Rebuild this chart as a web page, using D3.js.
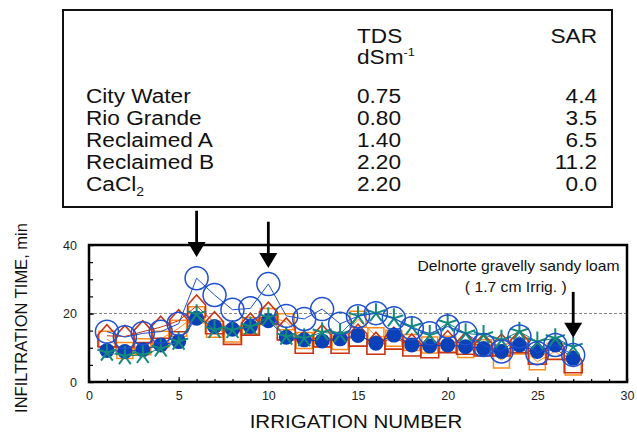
<!DOCTYPE html>
<html>
<head>
<meta charset="utf-8">
<script src="https://cdn.jsdelivr.net/npm/d3@7"></script>
<style>
  body { margin: 0; background: #fff; }
  text { font-family: "Liberation Sans", Arial, sans-serif; }
</style>
</head>
<body>
<div class="chart"></div>
<script>
// irrigation numbers (x)
var irrigation = [1,2,3,4,5,6,7,8,9,10,11,12,13,14,15,16,17,18,19,20,21,22,23,24,25,26,27];

// infiltration time, min - one array per marker series
var openCircle   = [14.7,13.1,14.2,14.7,17.0,30.3,25.4,21.1,21.5,28.6,19.3,18.4,21.3,17.0,19.2,20.1,18.6,15.7,14.2,16.2,14.2,10.8,8.9,13.3,8.4,10.8,7.9];
var houseSeries  = [13.5,13.3,14.7,16.0,17.9,22.2,17.3,14.2,16.9,20.1,15.5,11.6,13.5,11.6,13.7,11.3,12.8,10.8,10.3,11.8,11.3,10.8,10.8,11.8,8.4,9.8,5.9];
var squareSeries = [12.5,9.2,10.3,12.5,15.7,19.6,15.4,14.0,16.4,19.1,17.6,12.1,12.5,11.8,18.3,13.5,12.8,11.5,10.8,11.0,9.5,10.0,6.4,10.5,5.9,9.0,4.4];
var filledCircle = [9.2,8.9,9.4,10.8,11.8,18.6,16.2,15.4,16.2,17.9,13.1,12.3,12.0,12.6,13.6,11.3,13.7,10.8,10.5,10.8,10.3,9.8,8.9,10.8,8.9,10.8,6.9];
var asteriskSeries = [8.6,7.6,7.9,9.8,11.8,19.8,15.2,15.2,16.2,18.9,13.3,12.8,14.5,14.0,19.3,20.1,18.6,16.2,13.7,17.2,14.2,13.7,12.3,14.7,11.8,12.8,10.3];

// water table
var waters = ["City Water", "Rio Grande", "Reclaimed A", "Reclaimed B", "CaCl"];
var tds = ["0.75", "0.80", "1.40", "2.20", "2.20"];
var sar = ["4.4", "3.5", "6.5", "11.2", "0.0"];

var xTicks = [0,5,10,15,20,25,30];
var yTicks = [0,20,40];

// arrows: x position, top of shaft and tip (data units)
var arrowX = [6, 10, 27];
var arrowTop = [50, 46.8, 26.3];
var arrowTip = [36.5, 33.3, 12.9];

var svgWidth = 637, svgHeight = 432;
var margin = { top: 245, right: 10, bottom: 50, left: 89 };
var width = svgWidth - margin.left - margin.right;
var height = svgHeight - margin.top - margin.bottom;

var svg = d3.select(".chart").append("svg")
    .attr("width", svgWidth)
    .attr("height", svgHeight);

// ---- table box ----
var table = svg.append("g");
table.append("rect")
    .attr("x", 63).attr("y", 10)
    .attr("width", 549).attr("height", 197)
    .attr("fill", "none").attr("stroke", "#111").attr("stroke-width", 2);

function tableText(x, y, str, anchor) {
    return table.append("text")
        .attr("transform", "translate(" + x + "," + y + ") scale(1.16,1)")
        .attr("text-anchor", anchor || "start")
        .style("font-size", "19.5px")
        .attr("fill", "#111")
        .text(str);
}

tableText(357, 43, "TDS");
var dsm = tableText(357, 64, "dSm");
dsm.append("tspan").attr("dy", -8).style("font-size", "11px").text("-1");
tableText(597, 43, "SAR", "end");

var rowY = d3.scaleLinear().domain([0, 1]).range([103, 125]);
waters.forEach(function(w, i) {
    var t = tableText(86, rowY(i), w);
    if (w === "CaCl") {
        t.append("tspan").attr("dy", 5).style("font-size", "12px").text("2");
    }
    tableText(357, rowY(i), tds[i]);
    tableText(597, rowY(i), sar[i], "end");
});

// ---- chart ----
var chart = svg.append("g")
    .attr("transform", "translate(" + margin.left + "," + margin.top + ")");

var xScale = d3.scaleLinear().domain([0, 30]).range([0, width]);
var yScale = d3.scaleLinear().domain([0, 40]).range([height, 0]);

// reference line at 20
chart.append("line")
    .attr("x1", 0).attr("x2", width)
    .attr("y1", yScale(20)).attr("y2", yScale(20))
    .attr("stroke", "#888").attr("stroke-width", 1)
    .attr("stroke-dasharray", "3,2");

// minor ticks
chart.append("g")
    .attr("transform", "translate(0," + height + ")")
    .call(d3.axisBottom(xScale).tickValues(d3.range(0, 31, 1)).tickSize(-3).tickFormat(""))
    .call(function(g) { g.select(".domain").remove(); });
chart.append("g")
    .call(d3.axisLeft(yScale).tickValues(d3.range(0, 41, 5)).tickSize(-4).tickFormat(""))
    .call(function(g) { g.select(".domain").remove(); });

// major ticks with labels
var xAxis = chart.append("g")
    .attr("transform", "translate(0," + height + ")")
    .call(d3.axisBottom(xScale).tickValues(xTicks).tickSize(-5).tickPadding(9));
var yAxis = chart.append("g")
    .call(d3.axisLeft(yScale).tickValues(yTicks).tickSize(-5).tickPadding(12));

[xAxis, yAxis].forEach(function(ax) {
    ax.select(".domain").remove();
    ax.selectAll("text").style("font-size", "12.5px").attr("fill", "#222")
        .style("font-family", "Liberation Sans, Arial, sans-serif");
    ax.selectAll(".tick line").attr("stroke", "#111");
});
chart.selectAll(".tick line").attr("stroke-width", 1.2);

// frame
chart.append("rect")
    .attr("x", 0).attr("y", 0)
    .attr("width", width).attr("height", height)
    .attr("fill", "none").attr("stroke", "#000").attr("stroke-width", 2.5);

// series
var line = d3.line()
    .x(function(d) { return xScale(d[0]); })
    .y(function(d) { return yScale(d[1]); });

function pairs(values) {
    return irrigation.map(function(x, i) { return [x, values[i]]; });
}

var housePath = "M-9,-1L0,-11L9,-1L9,11L-9,11Z";
var squarePath = "M-8,-8L8,-8L8,8L-8,8Z";
var starPath = d3.range(5).map(function(k) {
    var a = -Math.PI / 2 + k * 2 * Math.PI / 5;
    return "M0,0L" + (10 * Math.cos(a)).toFixed(2) + "," + (10 * Math.sin(a)).toFixed(2);
}).join("");

function drawSeries(values, color, draw) {
    var data = pairs(values);
    chart.append("path")
        .datum(data)
        .attr("d", line)
        .attr("fill", "none")
        .attr("stroke", color)
        .attr("stroke-width", 1);
    var g = chart.append("g");
    var marks = g.selectAll(".m")
        .data(data)
        .enter();
    draw(marks, color);
}

function pathMarker(path, sw) {
    return function(marks, color) {
        marks.append("path")
            .attr("transform", function(d) {
                return "translate(" + xScale(d[0]) + "," + yScale(d[1]) + ")";
            })
            .attr("d", path)
            .attr("fill", "none")
            .attr("stroke", color)
            .attr("stroke-width", sw);
    };
}

drawSeries(squareSeries, "#ff8c1a", pathMarker(squarePath, 1.5));
drawSeries(houseSeries, "#cc3311", pathMarker(housePath, 1.6));
drawSeries(filledCircle, "#0a40b8", function(marks, color) {
    marks.append("circle")
        .attr("cx", function(d) { return xScale(d[0]); })
        .attr("cy", function(d) { return yScale(d[1]); })
        .attr("r", 7.5)
        .attr("fill", color);
});
drawSeries(asteriskSeries, "#148a7c", pathMarker(starPath, 2));
drawSeries(openCircle, "#1f50d0", function(marks, color) {
    marks.append("circle")
        .attr("cx", function(d) { return xScale(d[0]); })
        .attr("cy", function(d) { return yScale(d[1]); })
        .attr("r", 11.5)
        .attr("fill", "none")
        .attr("stroke", color)
        .attr("stroke-width", 1.5);
});

// arrows
arrowX.forEach(function(x, i) {
    var px = xScale(x);
    var yTop = yScale(arrowTop[i]);
    var yTip = yScale(arrowTip[i]);
    chart.append("line")
        .attr("x1", px).attr("x2", px)
        .attr("y1", yTop).attr("y2", yTip - 13)
        .attr("stroke", "#000").attr("stroke-width", 2.8);
    chart.append("path")
        .attr("d", "M" + (px - 9) + "," + (yTip - 15) + "L" + (px + 9) + "," + (yTip - 15) + "L" + px + "," + yTip + "Z")
        .attr("fill", "#000");
});

// annotation
chart.append("text")
    .attr("transform", "translate(" + xScale(23.95) + "," + yScale(32.3) + ") scale(1.12,1)")
    .attr("text-anchor", "middle")
    .style("font-size", "14px")
    .attr("fill", "#111")
    .text("Delnorte gravelly sandy loam");
chart.append("text")
    .attr("transform", "translate(" + xScale(23.8) + "," + yScale(26.3) + ") scale(1.12,1)")
    .attr("text-anchor", "middle")
    .style("font-size", "14px")
    .attr("fill", "#111")
    .text("( 1.7 cm Irrig. )");

// axis titles
svg.append("text")
    .attr("transform", "translate(" + (margin.left + width / 2 - 2) + ",428) scale(1.08,1)")
    .attr("text-anchor", "middle")
    .style("font-size", "19px")
    .attr("fill", "#111")
    .text("IRRIGATION NUMBER");

svg.append("text")
    .attr("transform", "translate(27,318) rotate(-90)")
    .attr("text-anchor", "middle")
    .style("font-size", "16.5px")
    .attr("fill", "#111")
    .text("INFILTRATION TIME, min");
</script>
</body>
</html>
